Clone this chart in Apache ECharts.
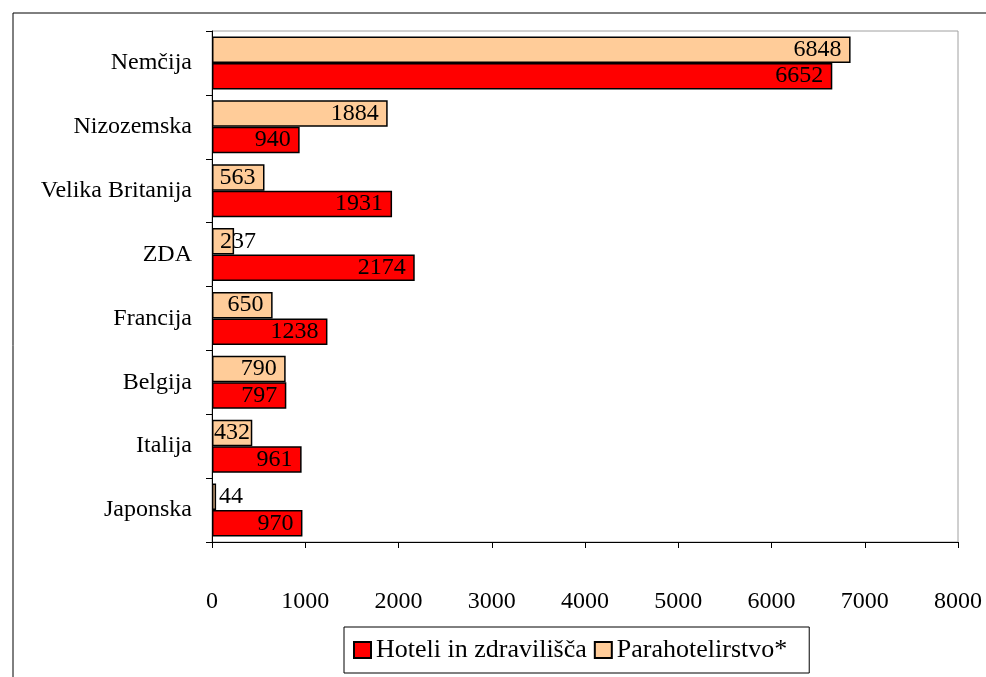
<!DOCTYPE html>
<html><head><meta charset="utf-8">
<script src="https://cdn.jsdelivr.net/npm/echarts@6/dist/echarts.min.js"></script>
<style>html,body{margin:0;padding:0;background:#fff}#c{width:986px;height:677px}</style>
</head><body><div id="c"></div>
<script>
const categories = ['Nemčija','Nizozemska','Velika Britanija','ZDA','Francija','Belgija','Italija','Japonska'];
const hoteli = [6652, 940, 1931, 2174, 1238, 797, 961, 970];
const parahotel = [6848, 1884, 563, 237, 650, 790, 432, 44];
const xTicks = [0,1000,2000,3000,4000,5000,6000,7000,8000];
const seriesNames = ['Hoteli in zdravilišča','Parahotelirstvo*'];

const FONT = '"Liberation Serif","Times New Roman",serif';
function lab(v){
  if (v < 100) return {value:v, label:{position:'right', distance:3}};
  if (v < 300) return {value:v, label:{position:'insideLeft', distance:8}};
  if (v < 500) return {value:v, label:{position:'insideLeft', distance:2}};
  return v;
}
const chart = echarts.init(document.getElementById('c'));
chart.setOption({
  animation:false,
  textStyle:{fontFamily:FONT},
  graphic:[{type:'rect', left:10.5, top:10.5, shape:{width:1100, height:800}, style:{fill:null, stroke:'#000', lineWidth:1}, z:-10}],
  grid:{left:212, right:28, top:31, bottom:135, show:true, borderColor:'#a0a0a0', borderWidth:1},
  xAxis:{type:'value', min:0, max:8000, interval:1000,
    axisLine:{show:true, lineStyle:{color:'#000'}},
    axisTick:{show:true, length:6, lineStyle:{color:'#000'}},
    splitLine:{show:false},
    axisLabel:{color:'#000', fontSize:24, fontFamily:FONT, margin:48,
      formatter:function(v){return xTicks.indexOf(v)>=0? String(v):'';}}},
  yAxis:{type:'category', data:categories, inverse:true,
    axisLine:{show:true, lineStyle:{color:'#000'}},
    axisTick:{show:true, length:6, lineStyle:{color:'#000'}},
    axisLabel:{color:'#000', fontSize:24, fontFamily:FONT, margin:20}},
  legend:{bottom:4, left:344, orient:'horizontal', padding:[10,22,10,9], itemGap:7,
    itemWidth:17, itemHeight:16, borderColor:'#000', borderWidth:1,
    textStyle:{color:'#000', fontSize:26, fontFamily:FONT},
    data:[{name:seriesNames[0], icon:'rect'},{name:seriesNames[1], icon:'rect'}]},
  series:[
    {name:seriesNames[1], type:'bar', data:parahotel.map(lab), barGap:'0%', barCategoryGap:'17%',
     itemStyle:{color:'#FFCC99', borderColor:'#000', borderWidth:1.5},
     label:{show:true, position:'insideRight', distance:9, color:'#000', fontSize:24, fontFamily:FONT}},
    {name:seriesNames[0], type:'bar', data:hoteli.map(lab), barGap:'0%', barCategoryGap:'17%',
     itemStyle:{color:'#FF0000', borderColor:'#000', borderWidth:1.5},
     label:{show:true, position:'insideRight', distance:9, color:'#000', fontSize:24, fontFamily:FONT}}
  ]
});
</script></body></html>
